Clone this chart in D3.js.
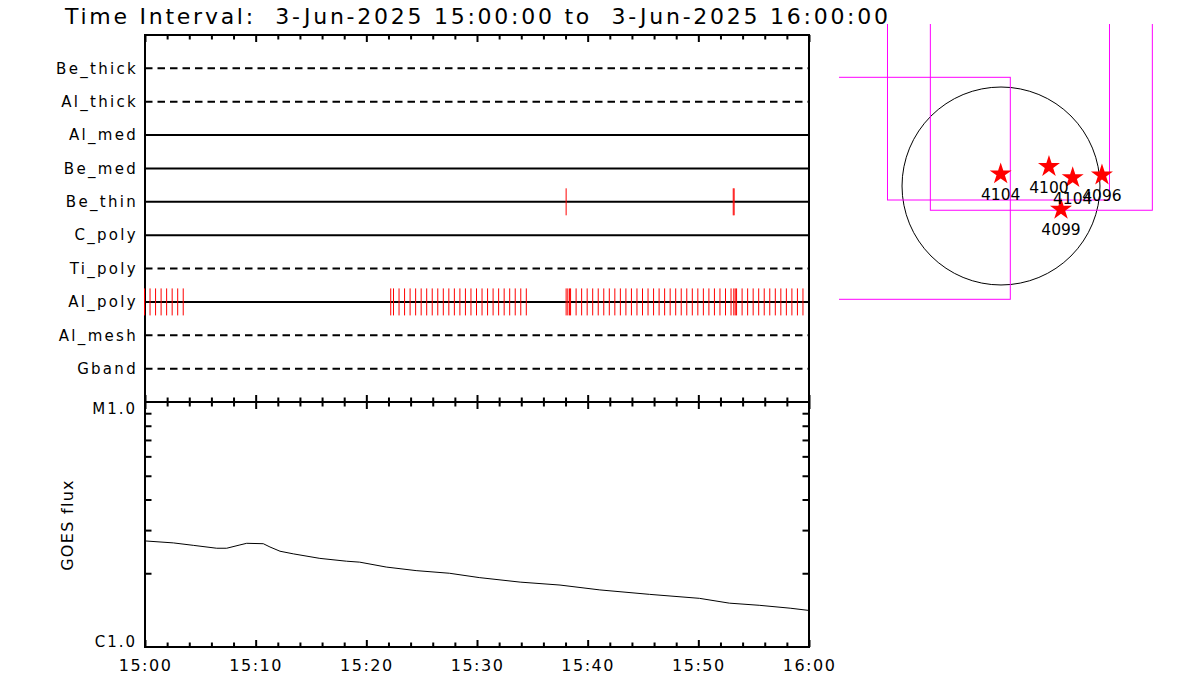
<!DOCTYPE html>
<meta charset="utf-8">
<head>
<style>
  body { margin: 0; background: #fff; }
  svg { display: block; font-family: "DejaVu Sans", sans-serif; }
  .frame { fill: none; stroke: #000; stroke-width: 2px; }
  .axis path { display: none; }
  .axis line { stroke: #000; stroke-width: 2px; }
  .ylab line, .flux-lab line { display: none; }
  .rowline { stroke: #000; stroke-width: 2px; }
  .hit { stroke: #f00; stroke-width: 1px; }
  .fov { fill: none; stroke: #f0f; stroke-width: 1px; }
</style>
</head>
<body>
<svg id="chart" width="1200" height="700"></svg>
<script src="https://d3js.org/d3.v7.min.js"></script>
<script>

// filter rows, top to bottom
var filters = ["Be_thick", "Al_thick", "Al_med", "Be_med", "Be_thin", "C_poly", "Ti_poly", "Al_poly", "Al_mesh", "Gband"];
var dashedFilters = ["Be_thick", "Al_thick", "Ti_poly", "Al_mesh", "Gband"];

// exposure times, minutes after 15:00
var beThinMinutes = [38.1, 53.2, 53.28];
var alPolyMinutes = [
  0, 0.5, 1, 1.5, 2, 2.5, 3, 3.5,
  22.25, 22.5, 23, 23.5, 24, 24.5, 25, 25.5, 26, 26.5, 27, 27.5, 28, 28.5, 29, 29.5,
  30, 30.5, 31, 31.5, 32, 32.5, 33, 33.5, 34, 34.5,
  38.1, 38.25, 38.4, 38.5, 39, 39.5, 40, 40.5, 41, 41.5, 42, 42.5, 43, 43.5, 44, 44.5,
  45, 45.5, 46, 46.5, 47, 47.5, 48, 48.5, 49, 49.5, 50, 50.5, 51, 51.5, 52, 52.5, 53,
  53.25, 53.38, 53.5, 54, 54.5, 55, 55.5, 56, 56.5, 57, 57.5, 58, 58.5, 59, 59.5
];

// GOES flux curve
var goesMinutes = [0, 2.56, 4.36, 6.48, 7.38, 8.58, 9.19, 10.69, 11.29, 12.2, 13.4, 15.8, 18.2, 19.4,
  21.8, 24.5, 27.5, 30.2, 33.9, 37.5, 41.1, 45.6, 50.1, 52.8, 55.5, 58.3, 60];
var goesFlux = [2.71e-6, 2.66e-6, 2.60e-6, 2.53e-6, 2.53e-6, 2.61e-6, 2.65e-6, 2.64e-6, 2.56e-6, 2.46e-6,
  2.40e-6, 2.30e-6, 2.24e-6, 2.22e-6, 2.12e-6, 2.05e-6, 2.00e-6, 1.92e-6, 1.84e-6, 1.79e-6, 1.71e-6,
  1.64e-6, 1.58e-6, 1.51e-6, 1.48e-6, 1.44e-6, 1.41e-6];
var fluxMinorTicks = [2e-6, 3e-6, 4e-6, 5e-6, 6e-6, 7e-6, 8e-6, 9e-6];
var fluxLabels = [{v: 1e-6, t: "C1.0"}, {v: 1e-5, t: "M1.0"}];

// solar disk, fields of view and active regions (arcsec)
var solarRadius = 947;
var fovSize = 2124;
var fovCenterX = [-973, -24, 386];
var fovCenterY = [-22, 928, 830];
var arNumbers = ["4104", "4100", "4104", "4096", "4099"];
var arX = [-3, 459, 686, 966, 574];
var arY = [115, 185, 79, 105, -223];

var svg = d3.select("#chart");
var t0 = Date.UTC(2025, 5, 3, 15, 0, 0);
function toDate(m) { return new Date(t0 + m * 60000); }

var pL = 145, pR = 809, pTop = 35, pMid = 402, pBot = 647;

var x = d3.scaleUtc().domain([toDate(0), toDate(60)]).range([pL, pR]);
var yRow = d3.scalePoint().domain(filters).range([pTop, pMid]).padding(1);
var yFlux = d3.scaleLog().domain([1e-6, 1e-5]).range([pBot, pMid]);

var majorTicks = x.ticks(d3.utcMinute.every(10));
var minorTicks = x.ticks(d3.utcMinute.every(2)).filter(function(d) { return d.getUTCMinutes() % 10 !== 0; });

// title
svg.append("text")
  .attr("x", 65).attr("y", 24)
  .attr("font-size", 22)
  .attr("textLength", 823).attr("lengthAdjust", "spacing")
  .style("white-space", "pre")
  .text("Time Interval:  3-Jun-2025 15:00:00 to  3-Jun-2025 16:00:00");

// filter rows
svg.selectAll(".rowline")
  .data(filters)
  .enter().append("line")
  .attr("class", "rowline")
  .attr("x1", pL).attr("x2", pR)
  .attr("y1", function(d) { return yRow(d); })
  .attr("y2", function(d) { return yRow(d); })
  .attr("stroke-dasharray", function(d) { return dashedFilters.indexOf(d) >= 0 ? "7.5,5" : null; });

var rowLab = svg.append("g")
  .attr("class", "axis ylab")
  .attr("transform", "translate(" + pL + ",0)")
  .call(d3.axisLeft(yRow).tickSize(0).tickPadding(7));
rowLab.selectAll("text")
  .attr("font-family", "DejaVu Sans").attr("font-size", 15)
  .attr("letter-spacing", 2.3).attr("fill", "#000");

// GOES curve
var goes = goesMinutes.map(function(m, i) { return {m: m, f: goesFlux[i]}; });
svg.append("path")
  .datum(goes)
  .attr("fill", "none").attr("stroke", "#000").attr("stroke-width", 1)
  .attr("d", d3.line()
    .x(function(d) { return x(toDate(d.m)); })
    .y(function(d) { return yFlux(d.f); }));

// time axes
function timeAxis(axisFn, y, ticks, size) {
  svg.append("g")
    .attr("class", "axis")
    .attr("transform", "translate(0," + y + ")")
    .call(axisFn(x).tickValues(ticks).tickSize(size).tickFormat(""));
}
timeAxis(d3.axisTop, pTop, majorTicks, -7);
timeAxis(d3.axisTop, pTop, minorTicks, -4.5);
timeAxis(d3.axisBottom, pMid, majorTicks, -7);
timeAxis(d3.axisBottom, pMid, minorTicks, -4.5);
timeAxis(d3.axisTop, pMid, majorTicks, -7);
timeAxis(d3.axisTop, pMid, minorTicks, -4.5);
timeAxis(d3.axisBottom, pBot, majorTicks, -7);
timeAxis(d3.axisBottom, pBot, minorTicks, -4.5);

var xLab = svg.append("g")
  .attr("class", "axis")
  .attr("transform", "translate(0," + pBot + ")")
  .call(d3.axisBottom(x).tickValues(majorTicks).tickSize(0).tickPadding(13).tickFormat(d3.utcFormat("%H:%M")));
xLab.selectAll("text")
  .attr("font-family", "DejaVu Sans").attr("font-size", 16)
  .attr("letter-spacing", 1.5).attr("fill", "#000");

// flux axes
svg.append("g")
  .attr("class", "axis")
  .attr("transform", "translate(" + pL + ",0)")
  .call(d3.axisLeft(yFlux).tickValues(fluxMinorTicks).tickSize(-6.5).tickFormat(""));
svg.append("g")
  .attr("class", "axis")
  .attr("transform", "translate(" + pR + ",0)")
  .call(d3.axisRight(yFlux).tickValues(fluxMinorTicks).tickSize(-6.5).tickFormat(""));

var fl = svg.append("g")
  .attr("class", "axis flux-lab")
  .attr("transform", "translate(" + pL + ",0)")
  .call(d3.axisLeft(yFlux).tickValues(fluxLabels.map(function(d) { return d.v; }))
    .tickSize(0).tickPadding(8)
    .tickFormat(function(v) { return fluxLabels.filter(function(d) { return d.v === v; })[0].t; }));
fl.selectAll("text")
  .attr("font-family", "DejaVu Sans").attr("font-size", 15)
  .attr("letter-spacing", 2).attr("fill", "#000")
  .attr("dy", function(v) { return v === 1e-5 ? "0.78em" : "-0.05em"; });

svg.append("text")
  .attr("transform", "translate(73,525) rotate(-90)")
  .attr("text-anchor", "middle")
  .attr("font-size", 16).attr("letter-spacing", 1.3)
  .text("GOES flux");

// frames
svg.append("rect").attr("class", "frame")
  .attr("x", pL).attr("y", pTop).attr("width", pR - pL).attr("height", pBot - pTop);
svg.append("line").attr("class", "rowline")
  .attr("x1", pL).attr("x2", pR).attr("y1", pMid).attr("y2", pMid);

// exposure marks, drawn over the frame
function drawHits(name, mins) {
  svg.append("g").selectAll("line")
    .data(mins)
    .enter().append("line")
    .attr("class", "hit")
    .attr("x1", function(d) { return x(toDate(d)) - 0.5; })
    .attr("x2", function(d) { return x(toDate(d)) - 0.5; })
    .attr("y1", yRow(name) - 13.5)
    .attr("y2", yRow(name) + 13.5);
}
drawHits("Be_thin", beThinMinutes);
drawHits("Al_poly", alPolyMinutes);

// solar map
var sx = d3.scaleLinear().domain([-1550, 1550]).range([839, 1163]);
var sy = d3.scaleLinear().domain([1550, -1550]).range([24, 348]);

svg.append("clipPath").attr("id", "mapclip")
  .append("rect")
  .attr("x", sx(-1550)).attr("y", sy(1550))
  .attr("width", sx(1550) - sx(-1550)).attr("height", sy(-1550) - sy(1550));

var map = svg.append("g").attr("clip-path", "url(#mapclip)");

map.append("circle")
  .attr("cx", sx(0)).attr("cy", sy(0))
  .attr("r", sx(solarRadius) - sx(0))
  .attr("fill", "none").attr("stroke", "#000").attr("stroke-width", 1);

map.selectAll(".fov")
  .data(fovCenterX)
  .enter().append("rect")
  .attr("class", "fov")
  .attr("x", function(d) { return sx(d - fovSize / 2); })
  .attr("y", function(d, i) { return sy(fovCenterY[i] + fovSize / 2); })
  .attr("width", sx(fovSize) - sx(0))
  .attr("height", sx(fovSize) - sx(0));

var star = d3.symbol().type(d3.symbolStar).size(150);
map.selectAll(".ar")
  .data(arNumbers)
  .enter().append("path")
  .attr("class", "ar")
  .attr("fill", "#f00")
  .attr("transform", function(d, i) { return "translate(" + sx(arX[i]) + "," + sy(arY[i]) + ")"; })
  .attr("d", star);

map.selectAll(".arlab")
  .data(arNumbers)
  .enter().append("text")
  .attr("class", "arlab")
  .attr("text-anchor", "middle")
  .attr("font-size", 15.5)
  .attr("x", function(d, i) { return sx(arX[i]); })
  .attr("y", function(d, i) { return sy(arY[i]) + 26; })
  .text(function(d) { return d; });

</script>
</body>
</html>
